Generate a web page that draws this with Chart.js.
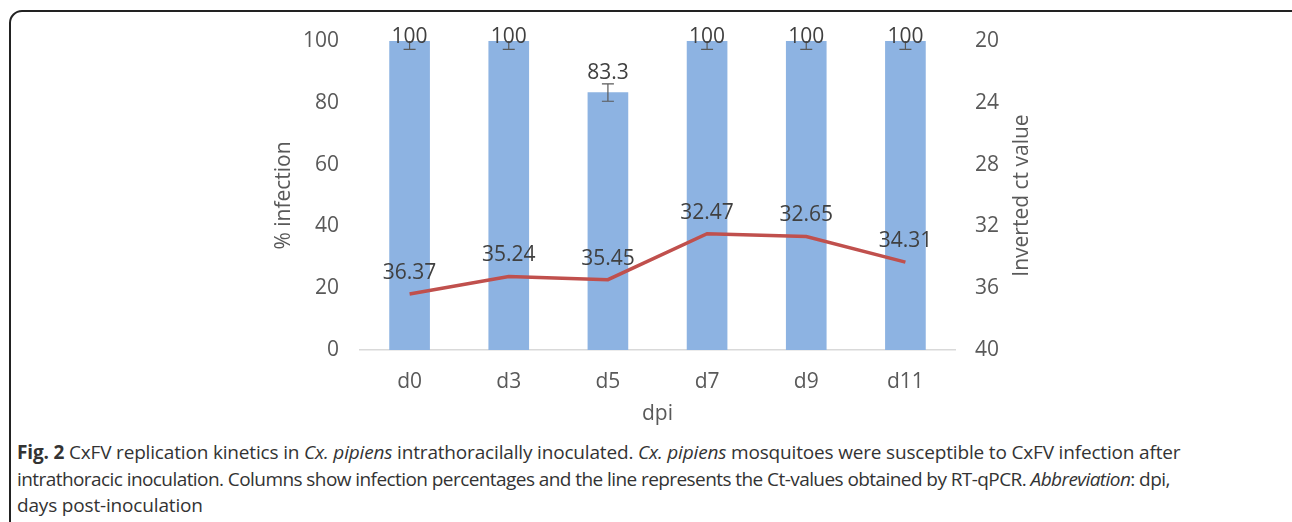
<!DOCTYPE html>
<html>
<head>
<meta charset="utf-8">
<script src="https://cdn.jsdelivr.net/npm/chart.js@4.4.0/dist/chart.umd.min.js"></script>
<style>
    body { margin: 0; background: #fff; width: 1292px; height: 522px; overflow: hidden; position: relative; }
    #frame {
        position: absolute; left: 9px; top: 10px; width: 1300px; height: 600px;
        border: 2px solid #222; border-radius: 13px; box-sizing: border-box;
    }
    #chartBox { position: absolute; left: 0; top: 0; width: 1292px; height: 430px; }
    #caption {
        position: absolute; left: 17px; top: 439px;
        font-family: "Open Sans", sans-serif; font-size: 19px; line-height: 26.5px;
        color: #333; white-space: nowrap; letter-spacing: -0.17px;
    }
    #caption .tight { letter-spacing: -0.57px; }
</style>
</head>
<body>
<div id="frame"></div>
<div id="chartBox"><canvas id="chart" width="1292" height="430"></canvas></div>
<div id="caption">
<b>Fig. 2</b> CxFV replication kinetics in <i>Cx. pipiens</i> intrathoracilally inoculated. <i>Cx. pipiens</i> mosquitoes were susceptible to CxFV infection after<br>
<span class="tight">intrathoracic inoculation. Columns show infection percentages and the line represents the Ct-values obtained by RT-qPCR. <i>Abbreviation</i>: dpi,</span><br>
days post-inoculation
</div>

<script>
let days = ["d0", "d3", "d5", "d7", "d9", "d11"];
let infection = [100, 100, 83.3, 100, 100, 100];
let infectionErr = [2.7, 2.7, 2.8, 2.7, 2.7, 2.7];
let ctValues = [36.37, 35.24, 35.45, 32.47, 32.65, 34.31];

const font = "'Open Sans', sans-serif";
const fontSize = 21;

// error bars on the columns, clipped to the plot area like in Excel
const errorBars = {
    id: "errorBars",
    afterDatasetsDraw(chart) {
        let ctx = chart.ctx;
        let meta = chart.getDatasetMeta(0);
        let y = chart.scales.y;
        let area = chart.chartArea;
        ctx.save();
        ctx.beginPath();
        ctx.rect(area.left, area.top, area.right - area.left, area.bottom - area.top);
        ctx.clip();
        ctx.strokeStyle = "#595959";
        ctx.lineWidth = 1.2;
        meta.data.forEach((bar, i) => {
            let top = y.getPixelForValue(infection[i] + infectionErr[i]);
            let bottom = y.getPixelForValue(infection[i] - infectionErr[i]);
            ctx.beginPath();
            ctx.moveTo(bar.x, top); ctx.lineTo(bar.x, bottom);
            ctx.moveTo(bar.x - 6, top); ctx.lineTo(bar.x + 6, top);
            ctx.moveTo(bar.x - 6, bottom); ctx.lineTo(bar.x + 6, bottom);
            ctx.stroke();
        });
        ctx.restore();
    }
};

// value labels above columns and line points, plus the right axis title
const valueLabels = {
    id: "valueLabels",
    afterDraw(chart) {
        let ctx = chart.ctx;
        let area = chart.chartArea;
        ctx.save();
        ctx.font = fontSize + "px " + font;
        ctx.fillStyle = "#404040";
        ctx.textAlign = "center";
        ctx.textBaseline = "middle";
        chart.getDatasetMeta(0).data.forEach((bar, i) => {
            let ly = Math.max(bar.y - 20, 37);
            ctx.fillText(String(infection[i]), bar.x, ly);
        });
        chart.getDatasetMeta(1).data.forEach((pt, i) => {
            ctx.fillText(ctValues[i].toFixed(2), pt.x, pt.y - 21);
        });

        // Excel writes the secondary axis title bottom-to-top
        ctx.fillStyle = "#595959";
        ctx.translate(1022, (area.top + area.bottom) / 2);
        ctx.rotate(-Math.PI / 2);
        ctx.fillText("Inverted ct value", 0, 0);
        ctx.restore();
    }
};

const ctx = document.getElementById("chart").getContext("2d");

new Chart(ctx, {
    type: "bar",
    data: {
        labels: days,
        datasets: [{
            label: "% infection",
            data: infection,
            backgroundColor: "#8DB3E2",
            barThickness: 40,
            yAxisID: "y",
            order: 2
        }, {
            type: "line",
            label: "Inverted ct value",
            data: ctValues,
            borderColor: "#C0504D",
            borderWidth: 3.5,
            pointRadius: 0,
            tension: 0,
            yAxisID: "y2",
            order: 1
        }]
    },
    options: {
        responsive: false,
        animation: false,
        layout: { padding: { left: 262, right: 249, top: 41, bottom: 0 } },
        plugins: {
            legend: { display: false },
            tooltip: { enabled: false }
        },
        scales: {
            x: {
                grid: { display: false, drawTicks: false },
                border: { display: true, color: "#D9D9D9", width: 1.5 },
                ticks: { color: "#595959", font: { family: font, size: fontSize }, padding: 19 },
                title: { display: true, text: "dpi", color: "#595959", font: { family: font, size: fontSize }, padding: { top: 0, bottom: 3 } },
                afterFit(scale) { scale.height = 80; }
            },
            y: {
                position: "left",
                min: 0, max: 100,
                ticks: { stepSize: 20, color: "#595959", font: { family: font, size: fontSize }, padding: 21 },
                grid: { display: false, drawTicks: false },
                border: { display: false },
                title: { display: true, text: "% infection", color: "#595959", font: { family: font, size: fontSize }, padding: { top: 9, bottom: 0 } },
                afterFit(scale) { scale.width = 98; }
            },
            y2: {
                position: "right",
                reverse: true,
                min: 20, max: 40,
                ticks: { stepSize: 4, color: "#595959", font: { family: font, size: fontSize }, padding: 20 },
                grid: { display: false, drawTicks: false },
                border: { display: false },
                title: { display: false },
                afterFit(scale) { scale.width = 88; }
            }
        }
    },
    plugins: [errorBars, valueLabels]
});
</script>
</body>
</html>
